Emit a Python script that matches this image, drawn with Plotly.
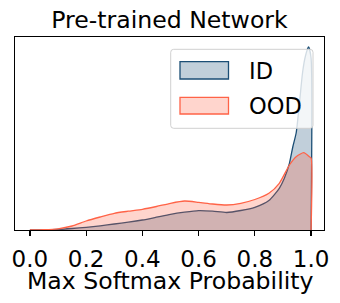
import plotly.graph_objects as go

# ---- data (KDE density, arbitrary density units) ----
id_x = [0.0, 0.05, 0.10, 0.15, 0.20, 0.25, 0.30, 0.35, 0.40, 0.45, 0.50, 0.55,
        0.60, 0.65, 0.70, 0.75, 0.80, 0.85, 0.887, 0.905, 0.923, 0.935, 0.947,
        0.958, 0.970, 0.980, 0.991, 1.0, 1.0]
id_y = [0.0, 0.01, 0.05, 0.15, 0.27, 0.42, 0.60, 0.78, 1.00, 1.28, 1.57, 1.78,
        1.93, 1.88, 1.75, 1.95, 2.27, 2.95, 4.17, 5.17, 6.67, 8.3, 9.7,
        12.5, 15.8, 17.4, 18.3, 17.2, 0.0]

ood_x = [0.0, 0.05, 0.10, 0.15, 0.20, 0.25, 0.30, 0.35, 0.40, 0.45, 0.50, 0.55,
         0.60, 0.65, 0.70, 0.75, 0.80, 0.85, 0.887, 0.923, 0.947, 0.974, 0.994,
         1.0, 1.0]
ood_y = [0.0, 0.03, 0.12, 0.40, 0.90, 1.30, 1.67, 1.88, 2.07, 2.35, 2.67, 2.90,
         2.77, 2.60, 2.50, 2.67, 3.05, 3.67, 4.67, 6.5, 7.33, 7.73, 7.33,
         7.2, 0.0]

x_ticks = [0.0, 0.2, 0.4, 0.6, 0.8, 1.0]
x_tick_text = ["0.0", "0.2", "0.4", "0.6", "0.8", "1.0"]
series_names = ["ID", "OOD"]
title_text = "Pre-trained Network"
x_label = "Max Softmax Probability"

ID_LINE = "#1b4e75"
ID_FILL = "rgba(27,78,117,0.27)"
OOD_LINE = "#ff6347"
OOD_FILL = "rgba(255,99,71,0.27)"
FONT = "DejaVu Sans"

fig = go.Figure()
fig.add_trace(go.Scatter(x=id_x, y=id_y, mode="lines", fill="tozeroy",
                         fillcolor=ID_FILL, line=dict(color=ID_LINE, width=1.3, shape="spline", smoothing=0.6),
                         name=series_names[0], showlegend=False, hoverinfo="skip"))
fig.add_trace(go.Scatter(x=ood_x, y=ood_y, mode="lines", fill="tozeroy",
                         fillcolor=OOD_FILL, line=dict(color=OOD_LINE, width=1.3, shape="spline", smoothing=0.6),
                         name=series_names[1], showlegend=False, hoverinfo="skip"))

# plot area: x 15..324, y 37..230 px
W, H = 340, 303
L, R, T, B = 15, 16, 37, 73
pw, ph = W - L - R, H - T - B

def px_x(p):
    return (p - L) / pw

def px_y(p):
    return (H - B - p) / ph

shapes = []
# legend box with rounded corners
bx0, bx1, by0, by1 = px_x(170.7), px_x(313), px_y(128.3), px_y(49.3)
rx, ry = 3 / pw, 3 / ph
path = (f"M{bx0+rx},{by0} L{bx1-rx},{by0} Q{bx1},{by0} {bx1},{by0+ry} "
        f"L{bx1},{by1-ry} Q{bx1},{by1} {bx1-rx},{by1} L{bx0+rx},{by1} "
        f"Q{bx0},{by1} {bx0},{by1-ry} L{bx0},{by0+ry} Q{bx0},{by0} {bx0+rx},{by0} Z")
shapes.append(dict(type="path", xref="paper", yref="paper", path=path,
                   fillcolor="rgba(255,255,255,0.8)", line=dict(color="#d0d0d0", width=1), layer="above"))
# legend patches
shapes.append(dict(type="rect", xref="paper", yref="paper",
                   x0=px_x(180), x1=px_x(228.5), y0=px_y(79), y1=px_y(61.7),
                   fillcolor=ID_FILL, line=dict(color=ID_LINE, width=1.3), layer="above"))
shapes.append(dict(type="rect", xref="paper", yref="paper",
                   x0=px_x(180), x1=px_x(228.5), y0=px_y(114), y1=px_y(97.3),
                   fillcolor=OOD_FILL, line=dict(color=OOD_LINE, width=1.3), layer="above"))

annotations = [
    dict(text=series_names[0], xref="paper", yref="paper", x=px_x(247), y=px_y(70.5),
         xanchor="left", yanchor="middle", showarrow=False, font=dict(family=FONT, size=22.5, color="black")),
    dict(text=series_names[1], xref="paper", yref="paper", x=px_x(247), y=px_y(105.7),
         xanchor="left", yanchor="middle", showarrow=False, font=dict(family=FONT, size=22.5, color="black")),
    dict(text=x_label, xref="paper", yref="paper", x=0.5, y=px_y(281),
         xanchor="center", yanchor="middle", showarrow=False, font=dict(family=FONT, size=23.6, color="black")),
]

fig.update_layout(
    width=W, height=H,
    margin=dict(l=L, r=R, t=T, b=B, pad=0),
    paper_bgcolor="white", plot_bgcolor="white",
    title=dict(text=title_text, x=0.5, xref="paper", y=(H - 20) / H, yref="container",
               xanchor="center", yanchor="middle", font=dict(family=FONT, size=23.6, color="black")),
    xaxis=dict(range=[-0.053, 1.046], tickvals=x_ticks, ticktext=x_tick_text,
               ticks="outside", ticklen=5, tickwidth=1.2, tickcolor="black",
               ticklabelstandoff=3,
               showline=True, linecolor="black", linewidth=1.3, mirror=True,
               showgrid=False, zeroline=False,
               tickfont=dict(family=FONT, size=23, color="black")),
    yaxis=dict(range=[0, 19.3], showticklabels=False, ticks="",
               showline=True, linecolor="black", linewidth=1.3, mirror=True,
               showgrid=False, zeroline=False),
    shapes=shapes, annotations=annotations,
)

fig.write_html("out.html",
               config={"displayModeBar": False, "staticPlot": True},
               post_script="document.body.style.margin='0';document.body.style.padding='0';"
                           "document.documentElement.style.overflow='hidden';")
